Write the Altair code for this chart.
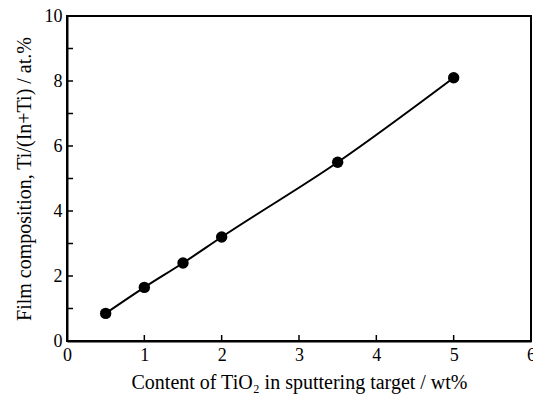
import altair as alt
import pandas as pd

tio2_wt = [0.5, 1.0, 1.5, 2.0, 3.5, 5.0]
ti_at = [0.85, 1.65, 2.4, 3.2, 5.5, 8.1]
x_ticks = [0, 1, 2, 3, 4, 5, 6]
y_ticks = [0, 2, 4, 6, 8, 10]
y_minor = [1, 2, 3, 4, 5, 6, 7, 8, 9]
x_minor = [1, 2, 3, 4, 5]

df = pd.DataFrame({"x": tio2_wt, "y": ti_at})
FONT = "Liberation Serif"
W, H = 464, 325

xs = alt.Scale(domain=[0, 6], nice=False)
ys = alt.Scale(domain=[0, 10], nice=False)

x_main = alt.X("x:Q", scale=xs, axis=alt.Axis(
    values=x_ticks, format="d", labelPadding=5, tickSize=0, labelFlush=False,
    labelFont=FONT, labelFontSize=18, labelColor="black",
    title="Content of TiO₂ in sputtering target / wt%", titlePadding=8,
    titleFont=FONT, titleFontSize=20, titleFontWeight="normal", titleColor="black",
    domainColor="black", domainWidth=2, grid=False))
y_main = alt.Y("y:Q", scale=ys, axis=alt.Axis(
    values=y_ticks, format="d", labelPadding=5, tickSize=0, labelFlush=False,
    labelFont=FONT, labelFontSize=18, labelColor="black",
    title="Film composition, Ti/(In+Ti) / at.%", titlePadding=10,
    titleFont=FONT, titleFontSize=20, titleFontWeight="normal", titleColor="black",
    domainColor="black", domainWidth=2, grid=False))

base_line = alt.Chart(df).mark_line(
    color="black", strokeWidth=2, interpolate="monotone"
).encode(x=x_main, y=y_main)

points = alt.Chart(df).mark_point(
    filled=True, color="black", size=130, opacity=1
).encode(x=alt.X("x:Q", scale=xs), y=alt.Y("y:Q", scale=ys))

yt = alt.Chart(pd.DataFrame({"v": y_minor})).mark_rule(
    color="black", strokeWidth=1.5
).encode(y=alt.Y("v:Q", scale=ys), x=alt.value(0), x2=alt.value(6))

xt = alt.Chart(pd.DataFrame({"v": x_minor})).mark_rule(
    color="black", strokeWidth=1.5
).encode(x=alt.X("v:Q", scale=xs), y=alt.value(H), y2=alt.value(H - 6))

chart = alt.layer(base_line, points, yt, xt).properties(
    width=W, height=H,
    background="white",
    autosize=alt.AutoSizeParams(type="none"),
    padding={"left": 59, "top": 8, "right": 2, "bottom": 54},
).configure_view(
    stroke="black", strokeWidth=2
)

chart.save("out.html", embed_options={"renderer": "svg", "actions": False})
